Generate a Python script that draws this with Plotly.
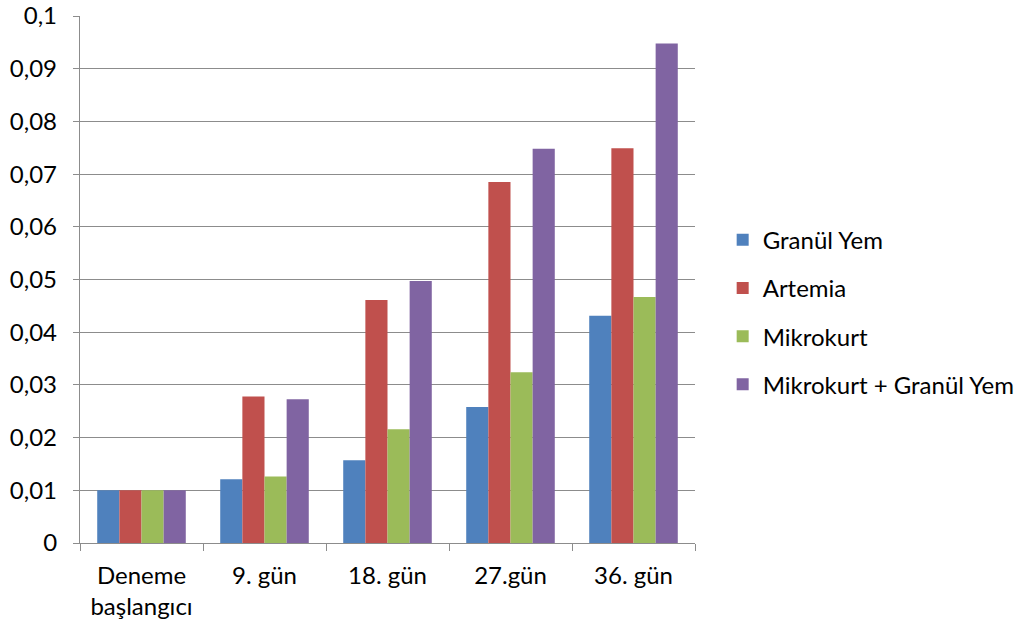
import plotly.graph_objects as go

categories = ["Deneme<br>başlangıcı", "9. gün", "18. gün", "27.gün", "36. gün"]
series_names = ["Granül Yem", "Artemia", "Mikrokurt", "Mikrokurt + Granül Yem"]
granul_yem = [0.0100, 0.0121, 0.0157, 0.0258, 0.0431]
artemia = [0.0100, 0.0278, 0.0461, 0.0685, 0.0749]
mikrokurt = [0.0100, 0.0126, 0.0216, 0.0324, 0.0467]
mikrokurt_granul = [0.0100, 0.0273, 0.0497, 0.0748, 0.0948]
colors = ["#4F81BD", "#C0504D", "#9BBB59", "#8064A2"]

fig = go.Figure()
for i, (name, vals) in enumerate(zip(series_names, [granul_yem, artemia, mikrokurt, mikrokurt_granul])):
    fig.add_trace(go.Bar(
        x=categories, y=vals, name=name, legendgroup=name,
        marker=dict(color=colors[i], line=dict(width=0)),
    ))

fig.update_layout(
    width=1021, height=625,
    margin=dict(l=80, r=326, t=16, b=82, autoexpand=False),
    paper_bgcolor="white", plot_bgcolor="white",
    barmode="group", bargap=0.28, bargroupgap=0,
    separators=", ",
    font=dict(family="Lato, Open Sans, sans-serif", size=24, color="#000000"),
    showlegend=True,
    legend=dict(x=1.045, xanchor="left", y=0.438, yanchor="middle",
                traceorder="grouped", tracegroupgap=14,
                font=dict(size=24), itemwidth=30),
)
fig.update_yaxes(
    range=[0, 0.1], dtick=0.01, tick0=0,
    showgrid=True, gridcolor="#8C8C8C", gridwidth=1.3,
    showline=True, linecolor="#8C8C8C", linewidth=1.3,
    ticks="outside", ticklen=6, tickcolor="#8C8C8C",
    ticklabelstandoff=11,
    zeroline=False, automargin=False,
)
fig.update_xaxes(
    showline=True, linecolor="#8C8C8C", linewidth=1.3,
    ticks="outside", ticklen=7, tickcolor="#8C8C8C", tickson="boundaries",
    ticklabelstandoff=11,
    showgrid=False, automargin=False,
)
fig.write_html("out.html", config={"displayModeBar": False},
               post_script="document.body.style.margin='0';")
